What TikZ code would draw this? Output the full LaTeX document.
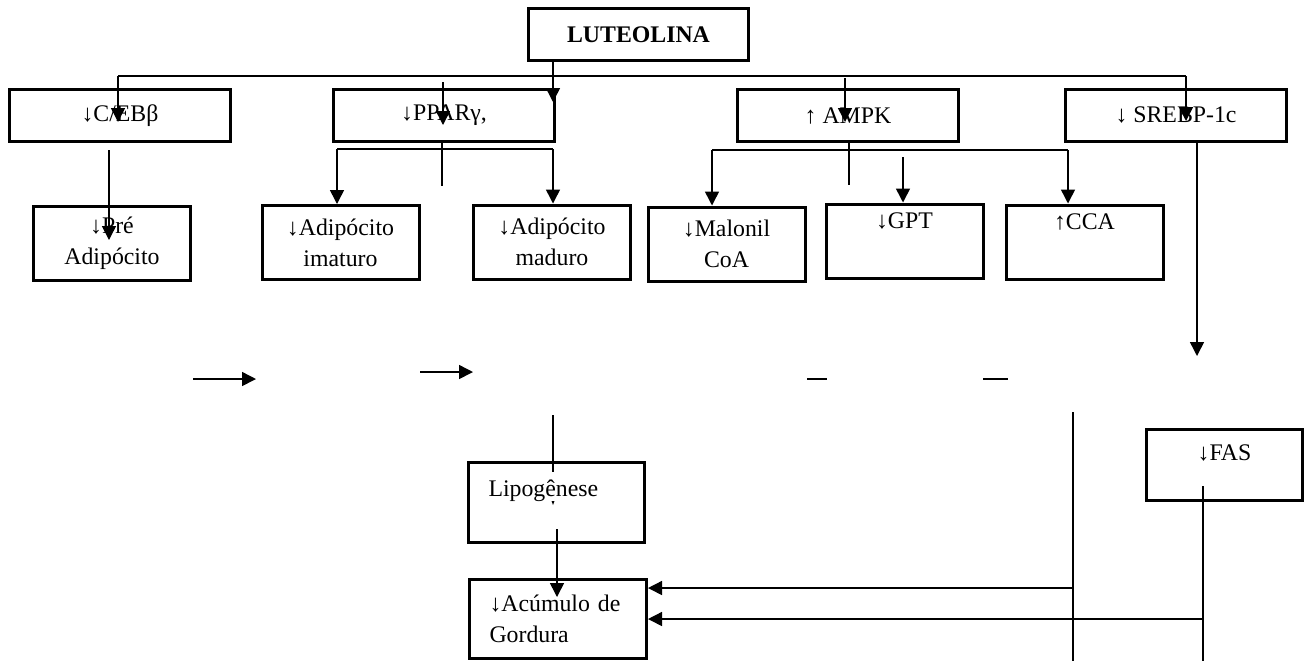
\documentclass[tikz,border=0pt]{standalone}
\usepackage{fontspec}
\setmainfont{Liberation Serif}
\usetikzlibrary{arrows.meta,calc}

\begin{document}
\begin{tikzpicture}[
  x=0.5pt, y=-0.5pt,
  every node/.style={font=\fontsize{11.9pt}{15.5pt}\selectfont},
  box/.style={rectangle, draw=black, line width=1.5pt, align=center, inner sep=0pt},
  topbox/.style={box, minimum width=110.5pt, minimum height=26pt},
  subbox/.style={box, minimum width=78.5pt, minimum height=37pt},
  leftbox/.style={box, align=left, inner xsep=10pt, text width=68pt, minimum height=40pt},
  link/.style={line width=0.75pt},
  arrow/.style={link, -{Triangle[width=7pt,length=7pt]}}
]
\useasboundingbox (0,0) rectangle (1306,661);

\node[box, minimum width=110pt, minimum height=26pt, font=\fontsize{11.9pt}{15.5pt}\selectfont\bfseries] (lut) at (638.5,34.5) {LUTEOLINA};

\node[topbox] (ceb)   at (120,115.5)  {↓C/EBβ};
\node[topbox] (ppar)  at (444,115)    {↓PPARγ,};
\node[topbox] (ampk)  at (848,115.5)  {↑ AMPK};
\node[topbox] (srebp) at (1176,115)   {↓ SREBP-1c};

\node[subbox] (pre)  at (112,243)    {↓Pré\\Adipócito};
\node[subbox] (imat) at (340.5,242.5) {↓Adipócito\\imaturo};
\node[subbox] (mad)  at (552,242)    {↓Adipócito\\maduro};
\node[subbox] (mal)  at (726.5,244)  {↓Malonil\\CoA};
\node[subbox] (gpt)  at (904.5,241)  {↓GPT\\\strut};
\node[subbox] (cca)  at (1084.5,242) {↑CCA\\\strut};

\node[leftbox] (lipo) at (556.5,502.5) {Lipogênese\\[-6pt]\strut};
\node[leftbox, text width=68.5pt, minimum height=39.5pt] (acum) at (558,619) {↓Acúmulo de\\Gordura};
\node[box, minimum width=78pt, minimum height=35.5pt] (fas) at (1224.5,465) {↓FAS\\[-8pt]\strut};

\coordinate (busL) at (118,76);
\coordinate (busR) at (1186,76);
\coordinate (lutdrop) at (553,102);
\coordinate (cebtip) at (118,122);
\coordinate (pparin) at (443,82);
\coordinate (ppartip) at (443,125);
\coordinate (ampkin) at (845,78);
\coordinate (ampktip) at (845,122);
\coordinate (srebptip) at (1186,121);

\draw[link] (busL) -- (busR);
\draw[arrow] (lutdrop |- lut.south) -- (lutdrop);
\draw[arrow] (busL) -- (cebtip);
\draw[arrow] (pparin) -- (ppartip);
\draw[arrow] (ampkin) -- (ampktip);
\draw[arrow] (busR) -- (srebptip);

\coordinate (cebout) at (109,150);
\coordinate (pretip) at (109,240);
\draw[arrow] (cebout) -- (pretip);

\coordinate (pparL) at (337,149);
\coordinate (pparR) at (553,149);
\coordinate (pparstub) at (442,186);
\draw[link] (pparL) -- (pparR);
\draw[link] (pparstub |- ppar.south) -- (pparstub);
\draw[arrow] (pparL) -- (pparL |- imat.north);
\draw[arrow] (pparR) -- (pparR |- mad.north);

\coordinate (ampkL) at (712,150);
\coordinate (ampkR) at (1068,150);
\coordinate (ampkstub) at (849,185);
\coordinate (gptin) at (903,157);
\draw[link] (ampkL) -- (ampkR);
\draw[link] (ampkstub |- ampk.south) -- (ampkstub);
\draw[arrow] (ampkL) -- (ampkL |- mal.north);
\draw[arrow] (gptin) -- (gptin |- gpt.north);
\draw[arrow] (ampkR) -- (ampkR |- cca.north);

\coordinate (srebpdrop) at (1197,356);
\draw[arrow] (srebpdrop |- srebp.south) -- (srebpdrop);

\coordinate (s1a) at (193,379);
\coordinate (s1b) at (256,379);
\coordinate (s2a) at (420,372);
\coordinate (s2b) at (473,372);
\coordinate (d1a) at (807,379);
\coordinate (d1b) at (827,379);
\coordinate (d2a) at (983,379);
\coordinate (d2b) at (1008,379);
\draw[arrow] (s1a) -- (s1b);
\draw[arrow] (s2a) -- (s2b);
\draw[link] (d1a) -- (d1b);
\draw[link] (d2a) -- (d2b);

\coordinate (lipoin) at (553,415);
\coordinate (lipoend) at (553,472);
\coordinate (lipoout) at (557,529);
\coordinate (acumtip) at (557,597);
\draw[link] (lipoin) -- (lipoend);
\fill (551.5,501) -- (554.5,501) -- (553,505) -- cycle;
\draw[arrow] (lipoout) -- (acumtip);

\coordinate (vtop) at (1073,412);
\coordinate (vbot) at (1073,661);
\coordinate (vjoin) at (1073,588);
\coordinate (fasout) at (1203,486);
\coordinate (fasbot) at (1203,661);
\coordinate (fasjoin) at (1203,619);
\draw[link] (vtop) -- (vbot);
\draw[link] (fasout) -- (fasbot);
\draw[arrow] (vjoin) -- (vjoin -| acum.east);
\draw[arrow] (fasjoin) -- (fasjoin -| acum.east);
\end{tikzpicture}
\end{document}
